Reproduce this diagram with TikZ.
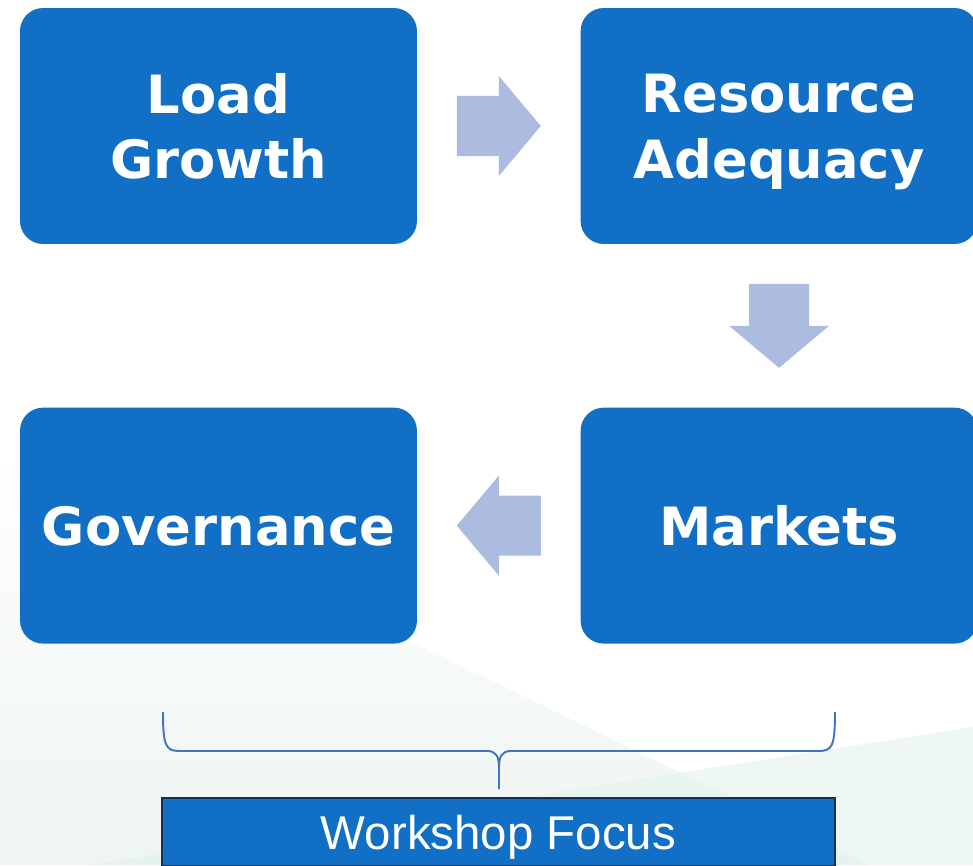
\documentclass[tikz,border=0pt]{standalone}
\usepackage{fontspec}
\usepackage{xcolor}
\usepackage{tikz}
\usetikzlibrary{shapes,arrows,positioning,calc}
\newfontfamily\blockfont{DejaVu Sans}
\newfontfamily\focusfont{Liberation Sans}
\definecolor{blockblue}{RGB}{17,112,198}
\definecolor{arrowblue}{RGB}{171,188,224}
\definecolor{bracecol}{RGB}{68,114,196}
\definecolor{focusedge}{RGB}{22,48,88}
\definecolor{bgmint}{RGB}{226,242,234}
\definecolor{bgfade}{RGB}{238,245,243}
\tikzstyle{block} = [rectangle, rounded corners=0.46cm, fill=blockblue, text=white,
  minimum width=7.94cm, minimum height=4.72cm, align=center, text depth=0pt,
  font=\blockfont\bfseries\fontsize{30}{37.5}\selectfont]
\tikzstyle{bracket} = [draw=bracecol, line width=1.1pt]
% fat arrow centred on #1, turned by #2 degrees
\newcommand{\blockarrow}[2]{%
  \fill[arrowblue, shift={(#1)}, rotate=#2]
    (-42,-30) -- (0,-30) -- (0,-50) -- (42,0) -- (0,50) -- (0,30) -- (-42,30) -- cycle;}

\begin{document}
\begin{tikzpicture}[x=0.02cm, y=-0.02cm, node distance=3.26cm]
        \useasboundingbox (0,0) rectangle (973,865);

        % Background wash
        \shade[top color=white, bottom color=bgfade] (0,441) -- (870,865) -- (0,865) -- cycle;
        \fill[bgmint, opacity=0.6] (90,865) -- (973,727) -- (973,865) -- cycle;

        % Define nodes
        \node[block] (block1) at (218.5,126) {Load\\Growth};

        \node[block,
        right=of block1] (block2) {Resource\\Adequacy};

        \node[block,
        below=of block2] (block3) {Markets};

        \node[block,
        left=of block3] (block4) {Governance};

        % Block arrows between the steps
        \coordinate (gap12) at ($(block1.east)!0.5!(block2.west)$);
        \coordinate (gap23) at ($(block2.south)!0.5!(block3.north)$);
        \coordinate (gap34) at ($(block3.west)!0.5!(block4.east)$);
        \blockarrow{gap12}{0}
        \blockarrow{gap23}{-90}
        \blockarrow{gap34}{180}

        % Brace over the last two steps
        \coordinate (braceL) at (163,712);
        \coordinate (braceR) at (835,712);
        \coordinate (braceTip) at (499,789);
        \draw[bracket] (braceL) .. controls (163,747) and (166,751) .. (180,751)
          -- (487,751) .. controls (496,751) and (499,756) .. (499,768) -- (braceTip);
        \draw[bracket] (braceR) .. controls (835,747) and (832,751) .. (818,751)
          -- (511,751) .. controls (502,751) and (499,756) .. (499,768);

        \node[rectangle, draw=focusedge, line width=1.2pt, fill=blockblue, text=white,
        minimum width=13.46cm, minimum height=1.36cm, text height=20pt, text depth=0pt,
        font=\focusfont\fontsize{27}{32}\selectfont] (focus) at (498.5,832) {Workshop Focus};

\end{tikzpicture}
\end{document}
